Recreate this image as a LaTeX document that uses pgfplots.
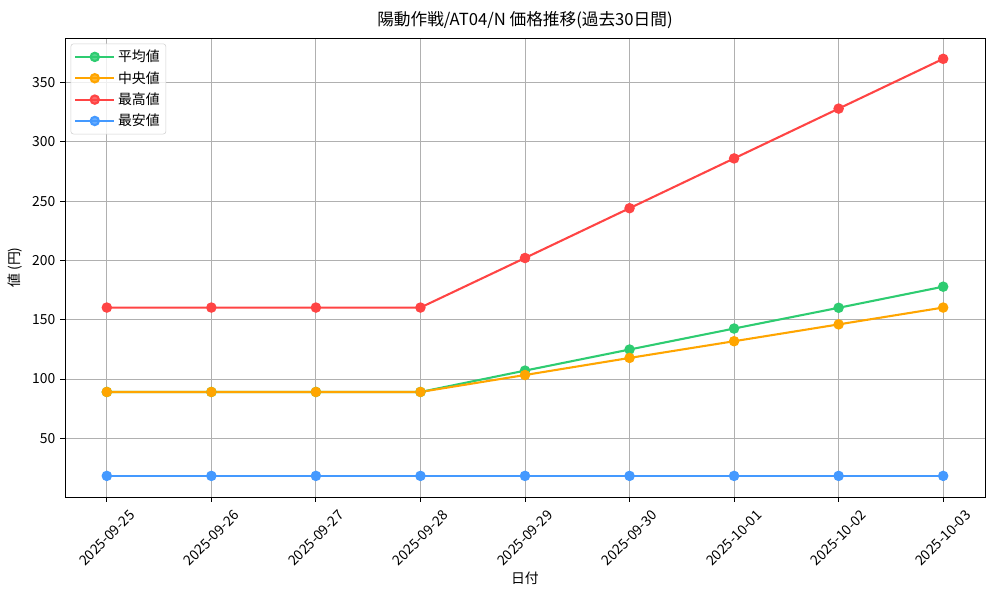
\documentclass[border=0pt]{standalone}
\usepackage{pgfplots}
\pgfplotsset{compat=1.18}
\usepackage{fontspec}
\setmainfont{Noto Sans CJK JP}
\definecolor{cmean}{HTML}{2ECC71}
\definecolor{cmedian}{HTML}{FFA500}
\definecolor{cmax}{HTML}{FF4444}
\definecolor{cmin}{HTML}{4499FF}
\begin{document}
\begin{tikzpicture}[x=1bp,y=1bp]
\begin{axis}[
    scale only axis,
    width=662.4bp, height=330.5bp,
    xmin=-0.4, xmax=8.4,
    ymin=0.4, ymax=387.6,
    xtick={0,...,8},
    xticklabels={2025-09-25,2025-09-26,2025-09-27,2025-09-28,2025-09-29,2025-09-30,2025-10-01,2025-10-02,2025-10-03},
    xticklabel style={anchor=center, yshift=-26bp, rotate=45, font=\fontsize{10bp}{12bp}\selectfont, inner sep=0pt},
    ytick={50,100,...,350},
    yticklabel style={font=\fontsize{10bp}{12bp}\selectfont},
    /pgf/number format/assume math mode=true,
    grid=major,
    grid style={color=black!31, line width=0.6bp},
    axis line style={line width=0.6bp},
    tick style={color=black, line width=0.6bp},
    tick align=outside,
    major tick length=3.5bp,
    xtick pos=bottom, ytick pos=left,
    title={陽動作戦/AT04/N 価格推移(過去30日間)},
    title style={font=\fontsize{12bp}{14bp}\selectfont, yshift=-3bp},
    xlabel={日付},
    ylabel={値 (円)},
    xlabel style={font=\fontsize{10bp}{12bp}\selectfont, yshift=0bp},
    ylabel style={font=\fontsize{10bp}{12bp}\selectfont, yshift=0bp},
    legend style={at={(0,1)}, anchor=north west, xshift=4bp, yshift=-4bp,
        font=\fontsize{10bp}{12bp}\selectfont, draw=black!18, rounded corners=2bp,
        fill=white, fill opacity=0.8, text opacity=1, row sep=1.5pt, inner sep=2.5pt},
    legend cell align=left,
    legend image code/.code={
        \draw[line width=1.5bp] (0bp,0bp) -- (28bp,0bp);
        \fill (14bp,0bp) circle (3bp);
    },
    every axis plot/.append style={line width=1.5bp, mark=*, mark size=3bp, mark options={solid}},
]
\addplot[color=cmean] coordinates {(0,89) (1,89) (2,89) (3,89) (4,107) (5,124.8) (6,142.5) (7,160) (8,177.8)};
\addlegendentry{平均値}
\addplot[color=cmedian] coordinates {(0,89) (1,89) (2,89) (3,89) (4,103.3) (5,117.7) (6,131.8) (7,146) (8,160.2)};
\addlegendentry{中央値}
\addplot[color=cmax] coordinates {(0,160.2) (1,160.2) (2,160.2) (3,160.2) (4,202) (5,244) (6,286) (7,328) (8,370)};
\addlegendentry{最高値}
\addplot[color=cmin] coordinates {(0,18.2) (1,18.2) (2,18.2) (3,18.2) (4,18.2) (5,18.2) (6,18.2) (7,18.2) (8,18.2)};
\addlegendentry{最安値}
\end{axis}
\useasboundingbox (-46.8bp,-74.16bp) rectangle (673.2bp,357.84bp);
\end{tikzpicture}
\end{document}
